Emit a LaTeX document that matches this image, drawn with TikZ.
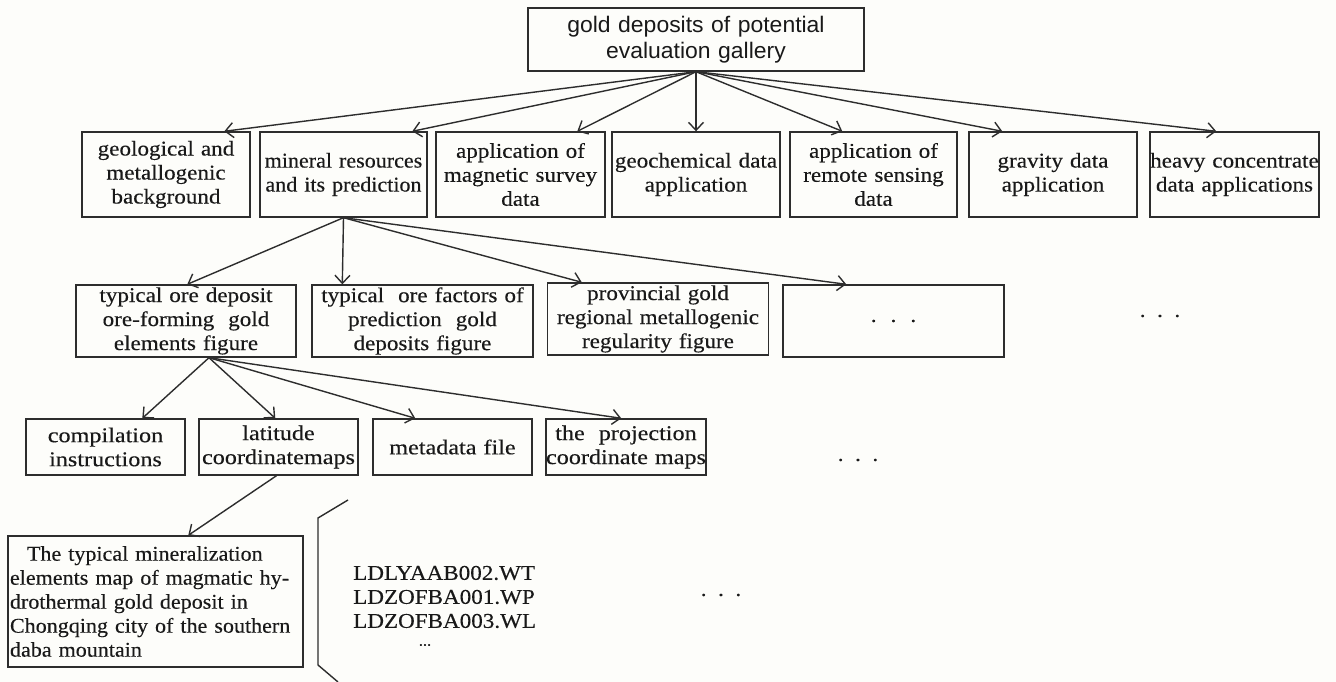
\documentclass[tikz,border=0pt]{standalone}
\usepackage{fontspec}
\setmainfont{Liberation Serif}[FakeStretch=1.1, FakeBold=0.25]
\newfontfamily\widef{Liberation Serif}[FakeStretch=1.15, FakeBold=0.25]
\newfontfamily\narrowf{Liberation Serif}[FakeStretch=1.05, FakeBold=0.25]
\newfontfamily\sansf{Liberation Sans}[FakeStretch=1.02]
\usetikzlibrary{arrows.meta}
\definecolor{linec}{RGB}{45,45,45}
\definecolor{textc}{RGB}{25,25,25}
\definecolor{bgc}{RGB}{253,253,250}
\newcommand{\tfont}{\fontsize{21}{24}\selectfont}
\tikzset{
  box/.style={draw=linec, line width=1.4pt, inner sep=1pt, align=center, font=\tfont, text=textc},
  rootbox/.style={box, font=\sansf\fontsize{22.5}{26}\selectfont},
  rowfour/.style={box, font=\widef\fontsize{21}{24}\selectfont},
  narrowbox/.style={box, font=\narrowf\fontsize{21}{24}\selectfont},
  arr/.style={draw=linec, line width=1.4pt, -{Straight Barb[length=8pt,width=15pt]}},
  plain/.style={inner sep=0pt, font=\tfont, text=textc},
}
\begin{document}
\begin{tikzpicture}[x=1pt,y=-1pt]
\fill[bgc] (0,0) rectangle (1336,682);
\useasboundingbox (0,0) rectangle (1336,682);

% root
\node[rootbox, minimum width=336pt, minimum height=63pt, text width=330pt] (root) at (696,39.5)
  {gold deposits of potential\\evaluation gallery};

% row 2
\node[box, minimum width=168pt, minimum height=85pt, text width=166pt] (n1) at (166,174.5)
  {geological and\\metallogenic\\background};
\node[narrowbox, minimum width=167pt, minimum height=85pt, text width=165pt] (n2) at (343.5,174.5)
  {mineral resources\\and its prediction};
\node[box, minimum width=169pt, minimum height=85pt, text width=167pt] (n3) at (520.5,174.5)
  {application of\\magnetic survey\\data};
\node[box, minimum width=168pt, minimum height=85pt, text width=166pt] (n4) at (696,174.5)
  {\makebox[0pt]{geochemical data}\\application};
\node[box, minimum width=167pt, minimum height=85pt, text width=165pt] (n5) at (873.5,174.5)
  {application of\\remote sensing\\data};
\node[box, minimum width=168pt, minimum height=85pt, text width=166pt] (n6) at (1053,174.5)
  {gravity data\\application};
\node[box, minimum width=169pt, minimum height=85pt, text width=167pt] (n7) at (1234.5,174.5)
  {\makebox[0pt]{heavy concentrate}\\\makebox[0pt]{data applications}};

\draw[arr] (root.south) -- ([xshift=143pt]n1.north west);
\draw[arr] (root.south) -- ([xshift=153pt]n2.north west);
\draw[arr] (root.south) -- ([xshift=142pt]n3.north west);
\draw[arr] (root.south) -- (n4.north);
\draw[arr] (root.south) -- ([xshift=53pt]n5.north west);
\draw[arr] (root.south) -- ([xshift=34pt]n6.north west);
\draw[arr] (root.south) -- ([xshift=67pt]n7.north west);

% row 3
\node[box, minimum width=220pt, minimum height=72pt, text width=218pt] (a) at (186,321)
  {typical ore deposit\\ore-forming\ \ gold\\elements figure};
\node[box, minimum width=221pt, minimum height=72pt, text width=219pt] (b) at (422.5,321)
  {typical\ \ ore factors of\\prediction\ \ gold\\deposits figure};
\node[box, minimum width=221pt, minimum height=72pt, text width=219pt] (c) at (658,319)
  {provincial gold\\regional metallogenic\\regularity figure};
\node[box, minimum width=221pt, minimum height=72pt, text width=219pt] (d) at (893.5,321)
  {.\ \ .\ \ .};
\node[plain] (dots1) at (1160,316) {.\ \ .\ \ .};

\draw[arr] (n2.south) -- ([xshift=112pt]a.north west);
\draw[arr] (n2.south) -- ([xshift=31pt]b.north west);
\draw[arr] (n2.south) -- ([xshift=35pt]c.north west);
\draw[arr] (n2.south) -- ([xshift=64pt]d.north west);

% row 4
\node[rowfour, minimum width=159pt, minimum height=56pt, text width=157pt] (r1) at (105.5,447)
  {compilation\\instructions};
\node[rowfour, minimum width=159pt, minimum height=56pt, text width=157pt] (r2) at (278.5,447)
  {latitude\\\makebox[0pt]{coordinatemaps}};
\node[rowfour, minimum width=159pt, minimum height=56pt, text width=157pt] (r3) at (452.5,447)
  {metadata file};
\node[rowfour, minimum width=160pt, minimum height=56pt, text width=158pt] (r4) at (626,447)
  {\makebox[0pt]{the\ \ projection}\\\makebox[0pt]{coordinate maps}};
\node[plain] (dots2) at (858,460) {.\ \ .\ \ .};

\coordinate (aout) at ([xshift=23pt]a.south);
\draw[arr] (aout) -- ([xshift=117pt]r1.north west);
\draw[arr] (aout) -- ([xshift=77pt]r2.north west);
\draw[arr] (aout) -- ([xshift=43pt]r3.north west);
\draw[arr] (aout) -- ([xshift=76pt]r4.north west);

% row 5
\node[narrowbox, minimum width=295pt, minimum height=131pt, text width=291pt, align=left] (big) at (155.5,601.5)
  {\hspace*{17pt}\mbox{The typical mineralization}\\\mbox{elements map of magmatic hy-}\\\mbox{drothermal gold deposit in}\\\mbox{Chongqing city of the southern}\\\mbox{daba mountain}};
\draw[arr] ([xshift=-2pt]r2.south) -- ([xshift=181pt]big.north west);

% bracket
\draw[linec, line width=1.4pt] (348,500) -- (318,518) -- (318,665) -- (338,682);

\node[plain, anchor=west, align=left] (files) at (353,597)
  {LDLYAAB002.WT\\LDZOFBA001.WP\\LDZOFBA003.WL};
\node[plain, font=\fontsize{15}{18}\selectfont] (fdots) at (425,645) {...};
\node[plain] (dots3) at (721,595) {.\ \ .\ \ .};
\end{tikzpicture}
\end{document}
